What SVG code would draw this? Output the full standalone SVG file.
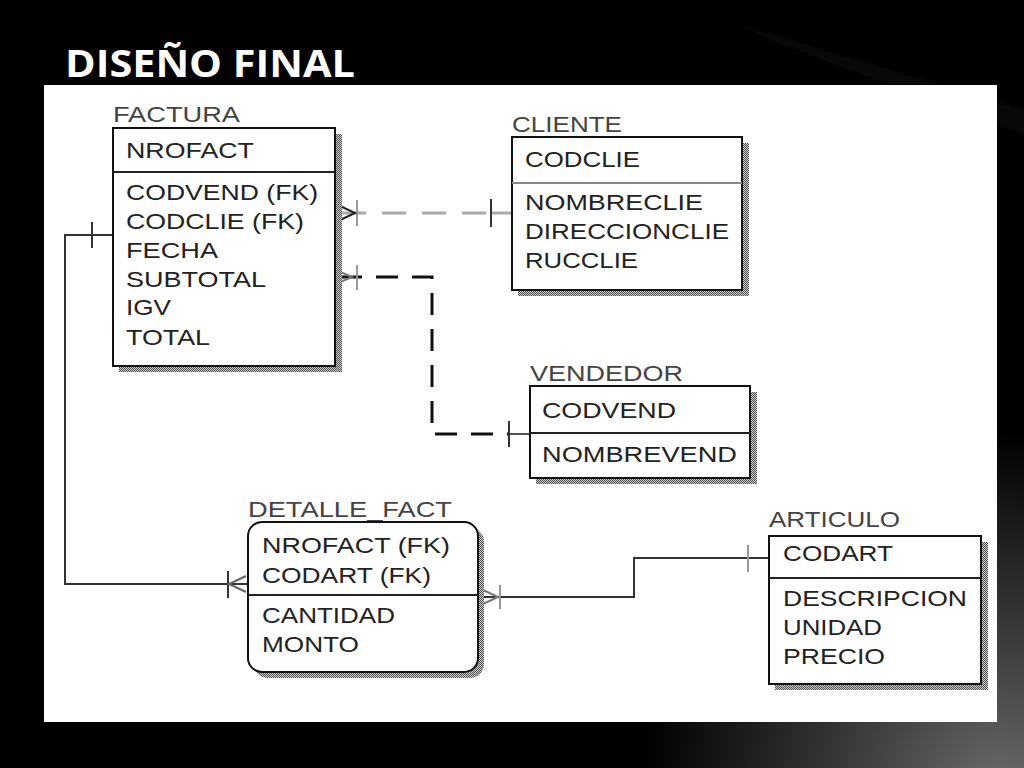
<svg xmlns="http://www.w3.org/2000/svg" width="1024" height="768" viewBox="0 0 1024 768">
<defs>
<radialGradient id="bgGlow" cx="1000" cy="790" r="360" gradientUnits="userSpaceOnUse">
<stop offset="0" stop-color="#6a6a6a"/>
<stop offset="0.5" stop-color="#333"/>
<stop offset="1" stop-color="#000"/>
</radialGradient>
<pattern id="shade" width="2" height="2" patternUnits="userSpaceOnUse">
<rect width="2" height="2" fill="#c8c8c8"/>
<rect width="1" height="1" fill="#555"/>
<rect x="1" y="1" width="1" height="1" fill="#555"/>
</pattern>
</defs>
<style>
.t{font-family:"Liberation Sans",Arial,sans-serif;font-size:22px;fill:#222;}
.lbl{font-family:"Liberation Sans",Arial,sans-serif;font-size:22px;fill:#444;}
.box{fill:#fff;stroke:#111;stroke-width:2;}
.div{stroke:#222;stroke-width:2;}
.sh{fill:url(#shade);}
.ln{fill:none;stroke:#333;stroke-width:2;}
.bar{stroke:#333;stroke-width:2;}
.gbar{stroke:#999;stroke-width:2;}
</style>
<rect width="1024" height="768" fill="#000"/>
<rect width="1024" height="768" fill="url(#bgGlow)"/>
<path d="M740 25 L1024 110 L1024 135 L770 40 Z" fill="#161616" opacity="0.35"/>
<text x="65" y="77" font-family="'Open Sans','Noto Sans',sans-serif" font-weight="700" font-size="38" fill="#fff" textLength="290" lengthAdjust="spacingAndGlyphs">DISEÑO FINAL</text>
<rect x="44" y="85" width="953" height="637" fill="#fff"/>

<g id="connectors">
<!-- FACTURA - CLIENTE -->
<line x1="342" y1="213" x2="491" y2="213" stroke="#aaa" stroke-width="3" stroke-dasharray="24,16"/>
<line x1="491" y1="213" x2="512" y2="213" stroke="#aaa" stroke-width="3"/>
<line class="gbar" x1="357" y1="200" x2="357" y2="226"/>
<line class="bar" x1="491" y1="199" x2="491" y2="227"/>
<path d="M338 205 L355 213 L338 221" fill="none" stroke="#222" stroke-width="2"/>
<!-- FACTURA - VENDEDOR -->
<path d="M340 277 H432 V434 H509" fill="none" stroke="#111" stroke-width="3" stroke-dasharray="22,14"/>
<line x1="509" y1="434" x2="530" y2="434" stroke="#555" stroke-width="2"/>
<line class="gbar" x1="357" y1="265" x2="357" y2="290"/>
<line class="bar" x1="509" y1="421" x2="509" y2="447"/>
<path d="M338 271 L352 277 L338 283" fill="none" stroke="#777" stroke-width="2"/>
<!-- FACTURA - DETALLE_FACT -->
<path class="ln" d="M113 235 H65 V584 H248"/>
<line class="bar" x1="92" y1="222" x2="92" y2="248"/>
<line class="bar" x1="228" y1="571" x2="228" y2="598"/>
<path d="M246 576 L229 584 L246 592" fill="none" stroke="#666" stroke-width="2"/>
<!-- DETALLE_FACT - ARTICULO -->
<path class="ln" d="M478 597 H634 V558 H769"/>
<line class="gbar" x1="748" y1="545" x2="748" y2="572"/>
<line class="gbar" x1="500" y1="585" x2="500" y2="609"/>
<path d="M483 590 L498 597 L483 604" fill="none" stroke="#777" stroke-width="2"/>
</g>

<g id="FACTURA">
<text class="lbl" x="113" y="122" textLength="127" lengthAdjust="spacingAndGlyphs">FACTURA</text>
<rect class="sh" x="336" y="134" width="6" height="238"/>
<rect class="sh" x="119" y="366" width="223" height="6"/>
<rect class="box" x="113" y="128" width="222" height="238"/>
<line class="div" x1="113" y1="172" x2="335" y2="172"/>
<text class="t" x="126" y="158" textLength="128" lengthAdjust="spacingAndGlyphs">NROFACT</text>
<text class="t" x="126" y="200" textLength="192" lengthAdjust="spacingAndGlyphs">CODVEND (FK)</text>
<text class="t" x="126" y="229" textLength="178" lengthAdjust="spacingAndGlyphs">CODCLIE (FK)</text>
<text class="t" x="126" y="258" textLength="92" lengthAdjust="spacingAndGlyphs">FECHA</text>
<text class="t" x="126" y="287" textLength="140" lengthAdjust="spacingAndGlyphs">SUBTOTAL</text>
<text class="t" x="126" y="315" textLength="45" lengthAdjust="spacingAndGlyphs">IGV</text>
<text class="t" x="126" y="345" textLength="84" lengthAdjust="spacingAndGlyphs">TOTAL</text>
</g>

<g id="CLIENTE">
<text class="lbl" x="512" y="132" textLength="110" lengthAdjust="spacingAndGlyphs">CLIENTE</text>
<rect class="sh" x="743" y="143" width="6" height="153"/>
<rect class="sh" x="518" y="290" width="231" height="6"/>
<rect class="box" x="512" y="137" width="230" height="153"/>
<line x1="512" y1="183" x2="742" y2="183" stroke="#888" stroke-width="2"/>
<text class="t" x="525" y="167" textLength="115" lengthAdjust="spacingAndGlyphs">CODCLIE</text>
<text class="t" x="525" y="210" textLength="178" lengthAdjust="spacingAndGlyphs">NOMBRECLIE</text>
<text class="t" x="525" y="239" textLength="204" lengthAdjust="spacingAndGlyphs">DIRECCIONCLIE</text>
<text class="t" x="525" y="268" textLength="113" lengthAdjust="spacingAndGlyphs">RUCCLIE</text>
</g>

<g id="VENDEDOR">
<text class="lbl" x="530" y="381" textLength="153" lengthAdjust="spacingAndGlyphs">VENDEDOR</text>
<rect class="sh" x="751" y="392" width="6" height="92"/>
<rect class="sh" x="536" y="478" width="221" height="6"/>
<rect class="box" x="530" y="386" width="220" height="92"/>
<line class="div" x1="530" y1="433" x2="750" y2="433"/>
<text class="t" x="542" y="418" textLength="134" lengthAdjust="spacingAndGlyphs">CODVEND</text>
<text class="t" x="542" y="462" textLength="195" lengthAdjust="spacingAndGlyphs">NOMBREVEND</text>
</g>

<g id="DETALLE_FACT">
<text class="lbl" x="248" y="517" textLength="204" lengthAdjust="spacingAndGlyphs">DETALLE_FACT</text>
<rect x="254" y="528" width="230" height="150" rx="14" fill="url(#shade)"/>
<rect class="box" x="248" y="522" width="230" height="150" rx="14"/>
<line class="div" x1="248" y1="595" x2="478" y2="595"/>
<text class="t" x="262" y="553" textLength="188" lengthAdjust="spacingAndGlyphs">NROFACT (FK)</text>
<text class="t" x="262" y="583" textLength="169" lengthAdjust="spacingAndGlyphs">CODART (FK)</text>
<text class="t" x="262" y="623" textLength="133" lengthAdjust="spacingAndGlyphs">CANTIDAD</text>
<text class="t" x="262" y="652" textLength="97" lengthAdjust="spacingAndGlyphs">MONTO</text>
</g>

<g id="ARTICULO">
<text class="lbl" x="769" y="527" textLength="131" lengthAdjust="spacingAndGlyphs">ARTICULO</text>
<rect class="sh" x="982" y="542" width="6" height="148"/>
<rect class="sh" x="775" y="684" width="213" height="6"/>
<rect class="box" x="769" y="536" width="212" height="148"/>
<line class="div" x1="769" y1="578" x2="981" y2="578"/>
<text class="t" x="783" y="561" textLength="110" lengthAdjust="spacingAndGlyphs">CODART</text>
<text class="t" x="783" y="606" textLength="184" lengthAdjust="spacingAndGlyphs">DESCRIPCION</text>
<text class="t" x="783" y="635" textLength="99" lengthAdjust="spacingAndGlyphs">UNIDAD</text>
<text class="t" x="783" y="664" textLength="102" lengthAdjust="spacingAndGlyphs">PRECIO</text>
</g>
</svg>
